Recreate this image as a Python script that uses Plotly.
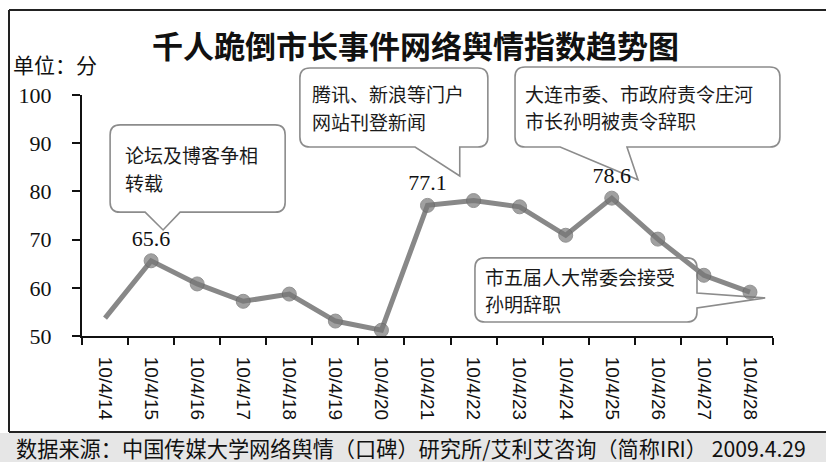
import plotly.graph_objects as go

# ---- data -------------------------------------------------------------
dates = ["10/4/14", "10/4/15", "10/4/16", "10/4/17", "10/4/18", "10/4/19", "10/4/20",
         "10/4/21", "10/4/22", "10/4/23", "10/4/24", "10/4/25", "10/4/26", "10/4/27", "10/4/28"]
index_values = [53.7, 65.6, 60.8, 57.2, 58.7, 53.1, 51.2,
                77.1, 78.1, 76.8, 70.9, 78.6, 70.1, 62.6, 59.1]
labelled_points = [1, 7, 11]          # points whose value is printed above the marker
y_ticks = [50, 60, 70, 80, 90, 100]

title_text = "千人跪倒市长事件网络舆情指数趋势图"
unit_text = "单位：分"
source_text = "数据来源：中国传媒大学网络舆情（口碑）研究所/艾利艾咨询（简称IRI） 2009.4.29"

# ---- canvas geometry ----------------------------------------------------
W, H = 826, 462
L, R, T, B = 82, 53, 95, 126
PW, PH = W - L - R, H - T - B
XR = (-0.5, len(dates) - 0.5)
YR = (50, 100)

CJK = "Noto Sans CJK SC"
SERIF = "Liberation Serif"
CALLOUT_SIZE = 19
CALLOUT_LINE = 27.6


def d2px(x, y):
    """data coordinates -> page pixels"""
    return (L + (x - XR[0]) / (XR[1] - XR[0]) * PW,
            T + (YR[1] - y) / (YR[1] - YR[0]) * PH)


def px2paper(px, py):
    return ((px - L) / PW, (H - B - py) / PH)


def path_from_pixels(cmds):
    out = []
    for c in cmds:
        op, pts = c[0], c[1:]
        seg = op
        for (px, py) in pts:
            xp, yp = px2paper(px, py)
            seg += f" {xp:.5f},{yp:.5f}"
        out.append(seg)
    return " ".join(out) + " Z"


def bubble(box, tail_side, base, tip, r=10):
    """rounded speech bubble; box/base/tip given in data units"""
    xa, xb, yb, yt = box
    x0, y0 = d2px(xa, yt)
    x1, y1 = d2px(xb, yb)
    tx, ty = d2px(*tip)
    c = [("M", (x0 + r, y0)), ("L", (x1 - r, y0)), ("Q", (x1, y0), (x1, y0 + r))]
    if tail_side == "right":
        _, ua = d2px(0, base[1])
        _, ub = d2px(0, base[0])
        c += [("L", (x1, ua)), ("L", (tx, ty)), ("L", (x1, ub))]
    c += [("L", (x1, y1 - r)), ("Q", (x1, y1), (x1 - r, y1))]
    if tail_side == "bottom":
        bl, _ = d2px(base[0], 0)
        br, _ = d2px(base[1], 0)
        c += [("L", (br, y1)), ("L", (tx, ty)), ("L", (bl, y1))]
    c += [("L", (x0 + r, y1)), ("Q", (x0, y1), (x0, y1 - r)),
          ("L", (x0, y0 + r)), ("Q", (x0, y0), (x0 + r, y0))]
    return path_from_pixels(c), (x0, y0, x1, y1)


callouts = [
    dict(lines=["论坛及博客争相", "转载"], box=(0.11, 3.91, 75.7, 93.8),
         side="bottom", base=(0.87, 1.63), point=1, offset=(0.26, 6.4), pad=13),
    dict(lines=["腾讯、新浪等门户", "网站刊登新闻"], box=(4.23, 8.31, 89.2, 105.6),
         side="bottom", base=(6.73, 7.70), point=7, offset=(0.70, 6.1), pad=10),
    dict(lines=["大连市委、市政府责令庄河", "市长孙明被责令辞职"], box=(8.90, 14.65, 89.2, 105.8),
         side="bottom", base=(9.88, 11.33), point=11, offset=(0.57, 3.8), pad=8),
    dict(lines=["市五届人大常委会接受", "孙明辞职"], box=(8.03, 12.85, 52.9, 66.2),
         side="right", base=(55.8, 58.9), point=14, offset=(0.33, -1.2), pad=8),
]

# ---- trace ----------------------------------------------------------------
xs = list(range(len(dates)))
marker_sizes = [0] + [14] * (len(dates) - 1)
labels = [f"{v:.1f}" if i in labelled_points else "" for i, v in enumerate(index_values)]

fig = go.Figure()
fig.add_trace(go.Scatter(
    x=xs, y=index_values, mode="lines+markers+text",
    line=dict(color="#888888", width=5),
    marker=dict(size=marker_sizes, color="#787878", line=dict(color="#666666", width=1)),
    text=labels, textposition="top center",
    textfont=dict(family=SERIF, size=22, color="#111"),
    cliponaxis=False, hoverinfo="skip", showlegend=False,
))

shapes = []
annotations = []

# footer band
fx0, fy0 = px2paper(0, 433)
fx1, fy1 = px2paper(W, H)
shapes.append(dict(type="rect", xref="paper", yref="paper", x0=fx0, x1=fx1, y0=fy1, y1=fy0,
                   fillcolor="#e6e6e6", line=dict(width=0), layer="below"))

# outer frame (top, left, bottom)
for (a, b) in [((9, 10), (W, 10)), ((9, 10), (9, 432)), ((9, 432), (W, 432))]:
    ax_, ay_ = px2paper(*a)
    bx_, by_ = px2paper(*b)
    shapes.append(dict(type="line", xref="paper", yref="paper", x0=ax_, y0=ay_, x1=bx_, y1=by_,
                       line=dict(color="#222", width=2)))

# callout bubbles, one annotation per text line
for c in callouts:
    tip = (c["point"] + c["offset"][0], index_values[c["point"]] + c["offset"][1])
    p, (x0, y0, x1, y1) = bubble(c["box"], c["side"], c["base"], tip)
    shapes.append(dict(type="path", xref="paper", yref="paper", path=p,
                       fillcolor="white", line=dict(color="#8c8c8c", width=1.6), layer="below"))
    n = len(c["lines"])
    yc = (y0 + y1) / 2
    for k, line in enumerate(c["lines"]):
        ly = yc + (k - (n - 1) / 2) * CALLOUT_LINE
        ax_, ay_ = px2paper(x0 + c["pad"], ly)
        annotations.append(dict(text=line, xref="paper", yref="paper", x=ax_, y=ay_,
                                xanchor="left", yanchor="middle", align="left", showarrow=False,
                                font=dict(family=CJK, size=CALLOUT_SIZE, color="#1a1a1a")))

# title, unit, source
tx_, ty_ = px2paper(415, 44)
annotations.append(dict(text=title_text, xref="paper", yref="paper", x=tx_, y=ty_,
                        xanchor="center", yanchor="middle", showarrow=False,
                        font=dict(family=CJK, size=31, color="#111", weight="bold")))
ux_, uy_ = px2paper(11, 64)
annotations.append(dict(text=unit_text, xref="paper", yref="paper", x=ux_, y=uy_,
                        xanchor="left", yanchor="middle", showarrow=False,
                        font=dict(family=CJK, size=21, color="#111")))
sx_, sy_ = px2paper(14, 447)
annotations.append(dict(text=source_text, xref="paper", yref="paper", x=sx_, y=sy_,
                        xanchor="left", yanchor="middle", showarrow=False,
                        font=dict(family=CJK, size=21.2, color="#111")))

fig.update_layout(
    width=W, height=H, autosize=False,
    margin=dict(l=L, r=R, t=T, b=B, pad=0),
    paper_bgcolor="white", plot_bgcolor="rgba(0,0,0,0)",
    shapes=shapes, annotations=annotations,
    xaxis=dict(
        range=list(XR), tickmode="array", tickvals=xs, ticktext=dates, tickangle=90,
        ticks="", showgrid=False, zeroline=False,
        showline=True, linecolor="#111", linewidth=2,
        tickfont=dict(family="Liberation Sans", size=19, color="#111"),
        ticklabelstandoff=15,
        minor=dict(tickmode="linear", tick0=-0.5, dtick=1, ticks="outside",
                   ticklen=7, tickwidth=2, tickcolor="#111", showgrid=False),
    ),
    yaxis=dict(
        range=list(YR), tickmode="array", tickvals=y_ticks,
        ticks="outside", ticklen=8, tickwidth=2, tickcolor="#111",
        showgrid=False, zeroline=False,
        showline=True, linecolor="#111", linewidth=2,
        tickfont=dict(family=SERIF, size=22, color="#111"),
        ticklabelstandoff=16,
    ),
)

fig.write_html("out.html")
